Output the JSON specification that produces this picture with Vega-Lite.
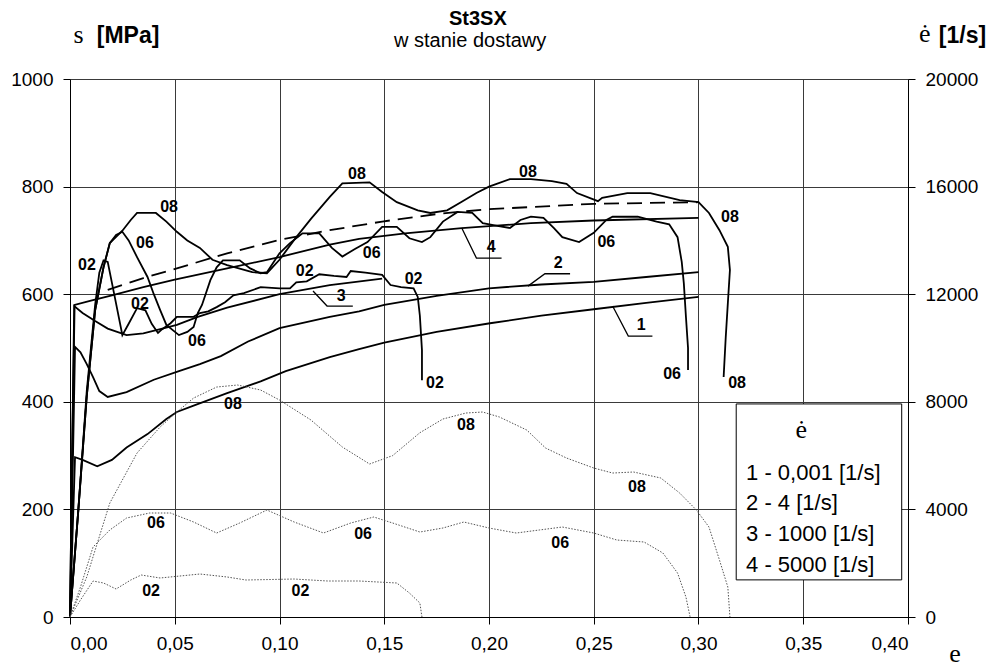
{
"$schema": "https://vega.github.io/schema/vega-lite/v6.json",
"width": 838, "height": 538,
"autosize": {"type": "none"},
"padding": {"left": 70, "top": 79, "right": 89, "bottom": 51},
"background": "white",
"config": {"view": {"stroke": null},
  "axis": {"labelFont": "Liberation Sans", "labelFontSize": 19, "labelColor": "#000", "tickColor": "#000", "domainColor": "#000", "gridColor": "#3a3a3a", "gridWidth": 1, "tickSize": 7, "domainWidth": 1, "tickWidth": 1},
  "text": {"font": "Liberation Sans", "color": "#000"}},
"datasets": {
"stress": [
{"s":"1","eps":0,"sig":0},{"s":"1","eps":0.0012,"sig":150},{"s":"1","eps":0.0024,"sig":297},{"s":"1","eps":0.006,"sig":292},{"s":"1","eps":0.013,"sig":280},{"s":"1","eps":0.02,"sig":292},{"s":"1","eps":0.027,"sig":315},{"s":"1","eps":0.037,"sig":340},{"s":"1","eps":0.046,"sig":368},{"s":"1","eps":0.051,"sig":381},{"s":"1","eps":0.059,"sig":393},{"s":"1","eps":0.075,"sig":416},{"s":"1","eps":0.091,"sig":438},{"s":"1","eps":0.103,"sig":457},{"s":"1","eps":0.124,"sig":483},{"s":"1","eps":0.138,"sig":498},{"s":"1","eps":0.15,"sig":510},{"s":"1","eps":0.175,"sig":530},{"s":"1","eps":0.2005,"sig":546},{"s":"1","eps":0.225,"sig":560},{"s":"1","eps":0.25,"sig":572},{"s":"1","eps":0.275,"sig":584},{"s":"1","eps":0.3,"sig":595},
{"s":"2","eps":0,"sig":0},{"s":"2","eps":0.0012,"sig":250},{"s":"2","eps":0.0024,"sig":502},{"s":"2","eps":0.005,"sig":492},{"s":"2","eps":0.008,"sig":470},{"s":"2","eps":0.011,"sig":446},{"s":"2","eps":0.014,"sig":420},{"s":"2","eps":0.018,"sig":409},{"s":"2","eps":0.027,"sig":418},{"s":"2","eps":0.04,"sig":441},{"s":"2","eps":0.052,"sig":457},{"s":"2","eps":0.062,"sig":470},{"s":"2","eps":0.072,"sig":485},{"s":"2","eps":0.085,"sig":512},{"s":"2","eps":0.1,"sig":537},{"s":"2","eps":0.124,"sig":558},{"s":"2","eps":0.138,"sig":568},{"s":"2","eps":0.15,"sig":580},{"s":"2","eps":0.175,"sig":597},{"s":"2","eps":0.2,"sig":611},{"s":"2","eps":0.225,"sig":618},{"s":"2","eps":0.25,"sig":623},{"s":"2","eps":0.275,"sig":632},{"s":"2","eps":0.3,"sig":641},
{"s":"3","eps":0,"sig":0},{"s":"3","eps":0.001,"sig":300},{"s":"3","eps":0.002,"sig":578},{"s":"3","eps":0.006,"sig":565},{"s":"3","eps":0.012,"sig":550},{"s":"3","eps":0.018,"sig":536},{"s":"3","eps":0.027,"sig":524},{"s":"3","eps":0.035,"sig":527},{"s":"3","eps":0.045,"sig":537},{"s":"3","eps":0.051,"sig":543},{"s":"3","eps":0.061,"sig":558},{"s":"3","eps":0.075,"sig":575},{"s":"3","eps":0.1,"sig":600},{"s":"3","eps":0.124,"sig":617},{"s":"3","eps":0.149,"sig":629},
{"s":"4","eps":0,"sig":0},{"s":"4","eps":0.001,"sig":300},{"s":"4","eps":0.0022,"sig":580},{"s":"4","eps":0.01,"sig":588},{"s":"4","eps":0.02,"sig":598},{"s":"4","eps":0.035,"sig":613},{"s":"4","eps":0.05,"sig":627},{"s":"4","eps":0.075,"sig":648},{"s":"4","eps":0.1,"sig":669},{"s":"4","eps":0.124,"sig":692},{"s":"4","eps":0.138,"sig":703},{"s":"4","eps":0.16,"sig":713},{"s":"4","eps":0.187,"sig":723},{"s":"4","eps":0.22,"sig":732},{"s":"4","eps":0.25,"sig":737},{"s":"4","eps":0.3,"sig":742},
{"s":"d02","eps":0,"sig":0},{"s":"d02","eps":0.004,"sig":200},{"s":"d02","eps":0.008,"sig":420},{"s":"d02","eps":0.012,"sig":580},{"s":"d02","eps":0.014,"sig":640},{"s":"d02","eps":0.016,"sig":663},{"s":"d02","eps":0.018,"sig":660},{"s":"d02","eps":0.021,"sig":602},{"s":"d02","eps":0.025,"sig":524},{"s":"d02","eps":0.028,"sig":545},{"s":"d02","eps":0.032,"sig":574},{"s":"d02","eps":0.036,"sig":570},{"s":"d02","eps":0.039,"sig":545},{"s":"d02","eps":0.042,"sig":528},{"s":"d02","eps":0.044,"sig":535},{"s":"d02","eps":0.048,"sig":546},{"s":"d02","eps":0.051,"sig":558},{"s":"d02","eps":0.059,"sig":558},{"s":"d02","eps":0.062,"sig":565},{"s":"d02","eps":0.066,"sig":568},{"s":"d02","eps":0.07,"sig":576},{"s":"d02","eps":0.074,"sig":585},{"s":"d02","eps":0.078,"sig":598},{"s":"d02","eps":0.083,"sig":602},{"s":"d02","eps":0.091,"sig":613},{"s":"d02","eps":0.1,"sig":611},{"s":"d02","eps":0.105,"sig":611},{"s":"d02","eps":0.108,"sig":622},{"s":"d02","eps":0.113,"sig":624},{"s":"d02","eps":0.119,"sig":637},{"s":"d02","eps":0.126,"sig":634},{"s":"d02","eps":0.132,"sig":632},{"s":"d02","eps":0.134,"sig":643},{"s":"d02","eps":0.141,"sig":640},{"s":"d02","eps":0.149,"sig":636},{"s":"d02","eps":0.153,"sig":617},{"s":"d02","eps":0.158,"sig":613},{"s":"d02","eps":0.164,"sig":611},{"s":"d02","eps":0.166,"sig":595},{"s":"d02","eps":0.167,"sig":560},{"s":"d02","eps":0.168,"sig":496},{"s":"d02","eps":0.168,"sig":440},
{"s":"d06","eps":0,"sig":0},{"s":"d06","eps":0.004,"sig":200},{"s":"d06","eps":0.008,"sig":410},{"s":"d06","eps":0.012,"sig":570},{"s":"d06","eps":0.016,"sig":650},{"s":"d06","eps":0.019,"sig":695},{"s":"d06","eps":0.022,"sig":710},{"s":"d06","eps":0.025,"sig":716},{"s":"d06","eps":0.028,"sig":700},{"s":"d06","eps":0.032,"sig":669},{"s":"d06","eps":0.037,"sig":632},{"s":"d06","eps":0.04,"sig":600},{"s":"d06","eps":0.043,"sig":571},{"s":"d06","eps":0.046,"sig":543},{"s":"d06","eps":0.052,"sig":524},{"s":"d06","eps":0.056,"sig":530},{"s":"d06","eps":0.059,"sig":539},{"s":"d06","eps":0.061,"sig":565},{"s":"d06","eps":0.063,"sig":580},{"s":"d06","eps":0.067,"sig":626},{"s":"d06","eps":0.07,"sig":650},{"s":"d06","eps":0.073,"sig":663},{"s":"d06","eps":0.081,"sig":663},{"s":"d06","eps":0.086,"sig":648},{"s":"d06","eps":0.091,"sig":639},{"s":"d06","eps":0.094,"sig":641},{"s":"d06","eps":0.1,"sig":676},{"s":"d06","eps":0.105,"sig":695},{"s":"d06","eps":0.111,"sig":713},{"s":"d06","eps":0.119,"sig":713},{"s":"d06","eps":0.125,"sig":686},{"s":"d06","eps":0.13,"sig":670},{"s":"d06","eps":0.136,"sig":684},{"s":"d06","eps":0.142,"sig":697},{"s":"d06","eps":0.149,"sig":725},{"s":"d06","eps":0.156,"sig":725},{"s":"d06","eps":0.162,"sig":704},{"s":"d06","eps":0.168,"sig":697},{"s":"d06","eps":0.172,"sig":706},{"s":"d06","eps":0.178,"sig":735},{"s":"d06","eps":0.185,"sig":753},{"s":"d06","eps":0.192,"sig":751},{"s":"d06","eps":0.197,"sig":732},{"s":"d06","eps":0.204,"sig":727},{"s":"d06","eps":0.21,"sig":723},{"s":"d06","eps":0.215,"sig":738},{"s":"d06","eps":0.22,"sig":744},{"s":"d06","eps":0.226,"sig":742},{"s":"d06","eps":0.231,"sig":723},{"s":"d06","eps":0.235,"sig":706},{"s":"d06","eps":0.243,"sig":697},{"s":"d06","eps":0.25,"sig":714},{"s":"d06","eps":0.256,"sig":738},{"s":"d06","eps":0.259,"sig":744},{"s":"d06","eps":0.271,"sig":744},{"s":"d06","eps":0.28,"sig":735},{"s":"d06","eps":0.286,"sig":730},{"s":"d06","eps":0.29,"sig":706},{"s":"d06","eps":0.292,"sig":660},{"s":"d06","eps":0.293,"sig":620},{"s":"d06","eps":0.294,"sig":558},{"s":"d06","eps":0.295,"sig":500},{"s":"d06","eps":0.295,"sig":459},
{"s":"d08","eps":0,"sig":0},{"s":"d08","eps":0.004,"sig":200},{"s":"d08","eps":0.008,"sig":410},{"s":"d08","eps":0.012,"sig":570},{"s":"d08","eps":0.016,"sig":650},{"s":"d08","eps":0.019,"sig":695},{"s":"d08","eps":0.025,"sig":718},{"s":"d08","eps":0.029,"sig":738},{"s":"d08","eps":0.032,"sig":751},{"s":"d08","eps":0.041,"sig":751},{"s":"d08","eps":0.046,"sig":735},{"s":"d08","eps":0.051,"sig":716},{"s":"d08","eps":0.056,"sig":700},{"s":"d08","eps":0.062,"sig":686},{"s":"d08","eps":0.068,"sig":664},{"s":"d08","eps":0.075,"sig":654},{"s":"d08","eps":0.087,"sig":641},{"s":"d08","eps":0.094,"sig":639},{"s":"d08","eps":0.1,"sig":664},{"s":"d08","eps":0.107,"sig":701},{"s":"d08","eps":0.115,"sig":740},{"s":"d08","eps":0.124,"sig":781},{"s":"d08","eps":0.13,"sig":806},{"s":"d08","eps":0.143,"sig":808},{"s":"d08","eps":0.149,"sig":790},{"s":"d08","eps":0.156,"sig":771},{"s":"d08","eps":0.166,"sig":756},{"s":"d08","eps":0.172,"sig":751},{"s":"d08","eps":0.18,"sig":756},{"s":"d08","eps":0.187,"sig":772},{"s":"d08","eps":0.194,"sig":788},{"s":"d08","eps":0.2,"sig":800},{"s":"d08","eps":0.21,"sig":814},{"s":"d08","eps":0.22,"sig":814},{"s":"d08","eps":0.23,"sig":810},{"s":"d08","eps":0.237,"sig":805},{"s":"d08","eps":0.242,"sig":788},{"s":"d08","eps":0.252,"sig":773},{"s":"d08","eps":0.254,"sig":779},{"s":"d08","eps":0.266,"sig":788},{"s":"d08","eps":0.277,"sig":788},{"s":"d08","eps":0.291,"sig":775},{"s":"d08","eps":0.3,"sig":771},{"s":"d08","eps":0.305,"sig":751},{"s":"d08","eps":0.31,"sig":719},{"s":"d08","eps":0.314,"sig":688},{"s":"d08","eps":0.315,"sig":645},{"s":"d08","eps":0.314,"sig":583},{"s":"d08","eps":0.313,"sig":520},{"s":"d08","eps":0.312,"sig":446}
],
"dash": [
{"eps":0.018,"sig":608},{"eps":0.035,"sig":630},{"eps":0.051,"sig":648},{"eps":0.075,"sig":676},{"eps":0.1,"sig":701},{"eps":0.124,"sig":719},{"eps":0.149,"sig":735},{"eps":0.177,"sig":750},{"eps":0.2,"sig":758},{"eps":0.25,"sig":768},{"eps":0.3,"sig":771}
],
"rate": [
{"s":"r08","eps":0,"rate":0},{"s":"r08","eps":0.008,"rate":1487},{"s":"r08","eps":0.019,"rate":4237},{"s":"r08","eps":0.032,"rate":6096},{"s":"r08","eps":0.043,"rate":7062},{"s":"r08","eps":0.051,"rate":7620},{"s":"r08","eps":0.059,"rate":8140},{"s":"r08","eps":0.07,"rate":8549},{"s":"r08","eps":0.08,"rate":8624},{"s":"r08","eps":0.091,"rate":8438},{"s":"r08","eps":0.1,"rate":8066},{"s":"r08","eps":0.115,"rate":7323},{"s":"r08","eps":0.13,"rate":6319},{"s":"r08","eps":0.143,"rate":5687},{"s":"r08","eps":0.154,"rate":6000},{"s":"r08","eps":0.167,"rate":6850},{"s":"r08","eps":0.178,"rate":7360},{"s":"r08","eps":0.189,"rate":7583},{"s":"r08","eps":0.197,"rate":7620},{"s":"r08","eps":0.205,"rate":7434},{"s":"r08","eps":0.218,"rate":6951},{"s":"r08","eps":0.227,"rate":6282},{"s":"r08","eps":0.237,"rate":5910},{"s":"r08","eps":0.25,"rate":5538},{"s":"r08","eps":0.259,"rate":5352},{"s":"r08","eps":0.269,"rate":5390},{"s":"r08","eps":0.282,"rate":5167},{"s":"r08","eps":0.291,"rate":4609},{"s":"r08","eps":0.299,"rate":3977},{"s":"r08","eps":0.305,"rate":3345},{"s":"r08","eps":0.31,"rate":2119},{"s":"r08","eps":0.314,"rate":1115},{"s":"r08","eps":0.315,"rate":0},
{"s":"r06","eps":0,"rate":0},{"s":"r06","eps":0.005,"rate":1115},{"s":"r06","eps":0.011,"rate":2602},{"s":"r06","eps":0.019,"rate":3234},{"s":"r06","eps":0.027,"rate":3680},{"s":"r06","eps":0.038,"rate":3866},{"s":"r06","eps":0.048,"rate":3866},{"s":"r06","eps":0.059,"rate":3531},{"s":"r06","eps":0.07,"rate":3122},{"s":"r06","eps":0.081,"rate":3494},{"s":"r06","eps":0.094,"rate":3977},{"s":"r06","eps":0.107,"rate":3531},{"s":"r06","eps":0.121,"rate":3122},{"s":"r06","eps":0.134,"rate":3494},{"s":"r06","eps":0.145,"rate":3717},{"s":"r06","eps":0.154,"rate":3494},{"s":"r06","eps":0.167,"rate":3159},{"s":"r06","eps":0.178,"rate":3308},{"s":"r06","eps":0.188,"rate":3531},{"s":"r06","eps":0.2,"rate":3308},{"s":"r06","eps":0.213,"rate":3122},{"s":"r06","eps":0.224,"rate":3234},{"s":"r06","eps":0.235,"rate":3345},{"s":"r06","eps":0.25,"rate":3122},{"s":"r06","eps":0.261,"rate":2862},{"s":"r06","eps":0.274,"rate":2788},{"s":"r06","eps":0.283,"rate":2379},{"s":"r06","eps":0.29,"rate":1635},{"s":"r06","eps":0.294,"rate":743},{"s":"r06","eps":0.296,"rate":0},
{"s":"r02","eps":0,"rate":0},{"s":"r02","eps":0.005,"rate":632},{"s":"r02","eps":0.011,"rate":1338},{"s":"r02","eps":0.016,"rate":1264},{"s":"r02","eps":0.022,"rate":1041},{"s":"r02","eps":0.029,"rate":1375},{"s":"r02","eps":0.034,"rate":1561},{"s":"r02","eps":0.043,"rate":1450},{"s":"r02","eps":0.062,"rate":1598},{"s":"r02","eps":0.075,"rate":1487},{"s":"r02","eps":0.084,"rate":1375},{"s":"r02","eps":0.107,"rate":1412},{"s":"r02","eps":0.123,"rate":1338},{"s":"r02","eps":0.138,"rate":1338},{"s":"r02","eps":0.156,"rate":1264},{"s":"r02","eps":0.162,"rate":892},{"s":"r02","eps":0.167,"rate":520},{"s":"r02","eps":0.168,"rate":0}
],
"leaders": [
{"s":"L1","eps":0.259,"sig":578},{"s":"L1","eps":0.2665,"sig":522},{"s":"L1","eps":0.278,"sig":522},
{"s":"L2","eps":0.2186,"sig":615},{"s":"L2","eps":0.2267,"sig":638},{"s":"L2","eps":0.2387,"sig":638},
{"s":"L3","eps":0.116,"sig":606},{"s":"L3","eps":0.1227,"sig":578},{"s":"L3","eps":0.135,"sig":578},
{"s":"L4","eps":0.187,"sig":723},{"s":"L4","eps":0.194,"sig":667},{"s":"L4","eps":0.206,"sig":667}
],
"labels": [
{"eps":0.0081,"sig":654,"txt":"02"},{"eps":0.0473,"sig":762,"txt":"08"},{"eps":0.0358,"sig":695,"txt":"06"},{"eps":0.0334,"sig":582,"txt":"02"},{"eps":0.0606,"sig":513,"txt":"06"},{"eps":0.137,"sig":823,"txt":"08"},{"eps":0.112,"sig":643,"txt":"02"},{"eps":0.144,"sig":677,"txt":"06"},{"eps":0.164,"sig":628,"txt":"02"},{"eps":0.1294,"sig":597,"txt":"3"},{"eps":0.201,"sig":688,"txt":"4"},{"eps":0.2186,"sig":827,"txt":"08"},{"eps":0.233,"sig":658,"txt":"2"},{"eps":0.256,"sig":697,"txt":"06"},{"eps":0.315,"sig":743,"txt":"08"},{"eps":0.2726,"sig":543,"txt":"1"},{"eps":0.1742,"sig":435,"txt":"02"},{"eps":0.2874,"sig":452,"txt":"06"},{"eps":0.3184,"sig":435,"txt":"08"},
{"eps":0.0778,"sig":396,"txt":"08"},{"eps":0.189,"sig":357,"txt":"08"},{"eps":0.2706,"sig":242,"txt":"08"},{"eps":0.041,"sig":175,"txt":"06"},{"eps":0.1399,"sig":154,"txt":"06"},{"eps":0.234,"sig":138,"txt":"06"},{"eps":0.0387,"sig":48,"txt":"02"},{"eps":0.110,"sig":48,"txt":"02"}
],
"notes": [
{"k":"title","eps":0.1947,"sig":1100,"txt":"St3SX"},
{"k":"sub","eps":0.191,"sig":1059,"txt":"w stanie dostawy"},
{"k":"unit","eps":0.0277,"sig":1067,"txt":"[MPa]"},
{"k":"unit","eps":0.426,"sig":1067,"txt":"[1/s]"},
{"k":"sym","eps":0.0041,"sig":1067,"txt":"s"},
{"k":"sym","eps":0.408,"sig":1069,"txt":"ė"},
{"k":"sym","eps":0.4224,"sig":-83,"txt":"e"},
{"k":"legsym","eps":0.349,"sig":333,"txt":"ė"},
{"k":"leg","eps":0.3227,"sig":255,"txt":"1 - 0,001 [1/s]"},
{"k":"leg","eps":0.3227,"sig":199,"txt":"2 - 4 [1/s]"},
{"k":"leg","eps":0.3227,"sig":141,"txt":"3 - 1000 [1/s]"},
{"k":"leg","eps":0.3227,"sig":84,"txt":"4 - 5000 [1/s]"}
],
"legbox": [{"eps":0.318,"eps2":0.397,"sig":396,"sig2":69}]
},
"layer": [
{
"encoding": {
  "x": {"field":"eps","type":"quantitative","scale":{"domain":[0,0.4],"nice":false},
        "axis":{"values":[0,0.05,0.1,0.15,0.2,0.25,0.3,0.35,0.4],"labelExpr":"replace(format(datum.value,'.2f'),'.',',')","grid":true,"title":null,"labelPadding":10}},
  "y": {"field":"sig","type":"quantitative","scale":{"domain":[0,1000],"nice":false},
        "axis":{"values":[0,200,400,600,800,1000],"format":"d","grid":true,"title":null,"labelPadding":10}}
},
"layer": [
 {"data":{"name":"legbox"},"mark":{"type":"rect","fill":"white","stroke":"#000","strokeWidth":1},
  "encoding":{"x2":{"field":"eps2"},"y2":{"field":"sig2"}}},
 {"data":{"name":"stress"},"transform":[{"window":[{"op":"row_number","as":"i"}],"groupby":["s"]}],
  "mark":{"type":"line","color":"#000","strokeWidth":1.8},
  "encoding":{"detail":{"field":"s"},"order":{"field":"i","type":"quantitative"}}},
 {"data":{"name":"dash"},"mark":{"type":"line","color":"#000","strokeWidth":1.8,"strokeDash":[15,8]},"encoding":{}},
 {"data":{"name":"leaders"},"transform":[{"window":[{"op":"row_number","as":"i"}],"groupby":["s"]}],
  "mark":{"type":"line","color":"#000","strokeWidth":1.3},
  "encoding":{"detail":{"field":"s"},"order":{"field":"i","type":"quantitative"}}},
 {"data":{"name":"labels"},"mark":{"type":"text","fontWeight":"bold","fontSize":16,"align":"center","baseline":"middle"},
  "encoding":{"text":{"field":"txt"}}},
 {"data":{"name":"notes"},"transform":[{"filter":"datum.k=='title'"}],"mark":{"type":"text","fontWeight":"bold","fontSize":20,"align":"center","baseline":"alphabetic"},"encoding":{"text":{"field":"txt"}}},
 {"data":{"name":"notes"},"transform":[{"filter":"datum.k=='sub'"}],"mark":{"type":"text","fontSize":20,"align":"center","baseline":"alphabetic"},"encoding":{"text":{"field":"txt"}}},
 {"data":{"name":"notes"},"transform":[{"filter":"datum.k=='unit'"}],"mark":{"type":"text","fontWeight":"bold","fontSize":23,"align":"center","baseline":"alphabetic"},"encoding":{"text":{"field":"txt"}}},
 {"data":{"name":"notes"},"transform":[{"filter":"datum.k=='sym' || datum.k=='legsym'"}],"mark":{"type":"text","font":"Liberation Serif","fontSize":26,"align":"center","baseline":"alphabetic"},"encoding":{"text":{"field":"txt"}}},
 {"data":{"name":"notes"},"transform":[{"filter":"datum.k=='leg'"}],"mark":{"type":"text","fontSize":22,"align":"left","baseline":"alphabetic"},"encoding":{"text":{"field":"txt"}}}
]
},
{
"data":{"name":"rate"},
"transform":[{"window":[{"op":"row_number","as":"i"}],"groupby":["s"]}],
"mark":{"type":"line","color":"#555","strokeWidth":1,"strokeDash":[1.5,1.5]},
"encoding":{
  "x": {"field":"eps","type":"quantitative","scale":{"domain":[0,0.4],"nice":false},
        "axis":{"values":[0,0.05,0.1,0.15,0.2,0.25,0.3,0.35,0.4],"labelExpr":"replace(format(datum.value,'.2f'),'.',',')","grid":true,"title":null,"labelPadding":10}},
  "y": {"field":"rate","type":"quantitative","scale":{"domain":[0,20000],"nice":false},
        "axis":{"orient":"right","values":[0,4000,8000,12000,16000,20000],"format":"d","grid":false,"title":null,"labelPadding":10}},
  "detail":{"field":"s"},
  "order":{"field":"i","type":"quantitative"}
}
}
],
"resolve": {"scale": {"y": "independent"}}
}
